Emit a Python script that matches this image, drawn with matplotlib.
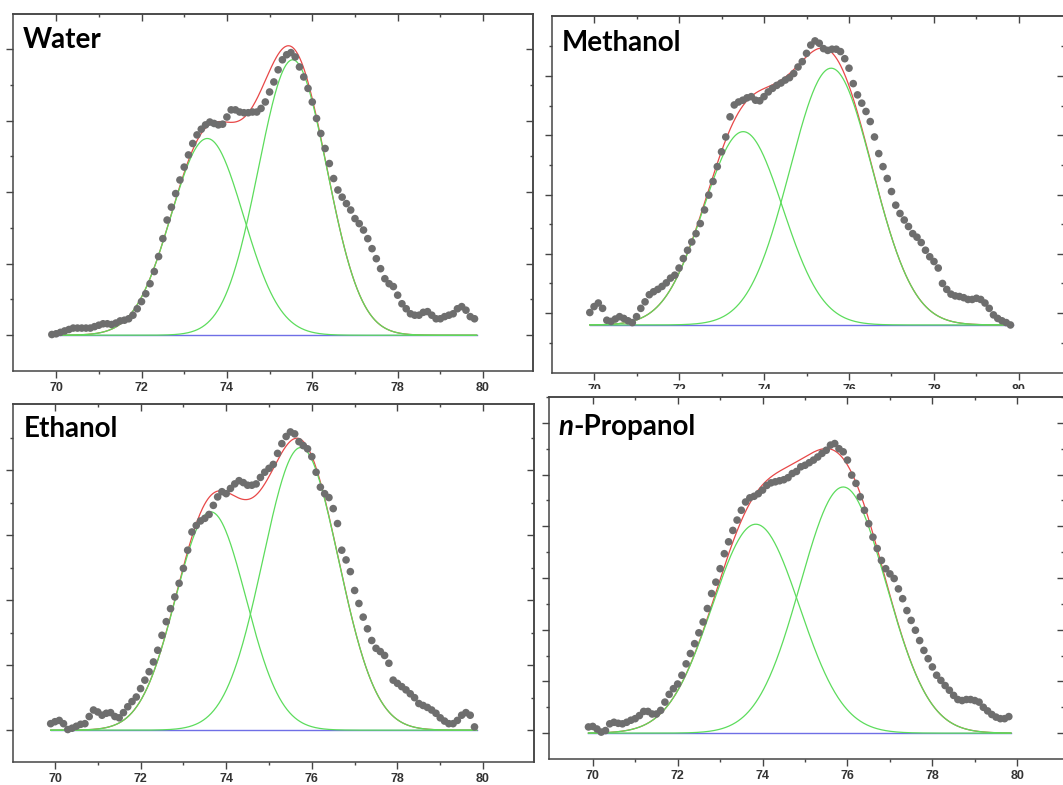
import numpy as np
import matplotlib.pyplot as plt
from matplotlib.patches import Rectangle

# binding energy grid (eV), 0.1 eV steps
energy = np.round(np.arange(69.9, 79.85, 0.1), 2)

water = [0.01, 0.02, 0.04, 0.06, 0.08, 0.10, 0.10, 0.10, 0.10, 0.10,
         0.12, 0.14, 0.16, 0.16, 0.15, 0.17, 0.20, 0.21, 0.23, 0.28,
         0.37, 0.47, 0.58, 0.72, 0.89, 1.10, 1.35, 1.61, 1.79, 1.98,
         2.17, 2.35, 2.52, 2.68, 2.80, 2.88, 2.94, 2.98, 2.96, 2.94,
         2.95, 3.05, 3.15, 3.15, 3.12, 3.11, 3.11, 3.12, 3.12, 3.17,
         3.26, 3.40, 3.54, 3.71, 3.85, 3.92, 3.95, 3.89, 3.75, 3.61,
         3.45, 3.26, 3.03, 2.82, 2.61, 2.40, 2.19, 2.03, 1.93, 1.84,
         1.75, 1.63, 1.56, 1.47, 1.35, 1.21, 1.07, 0.93, 0.79, 0.72,
         0.68, 0.56, 0.44, 0.37, 0.30, 0.28, 0.28, 0.32, 0.33, 0.28,
         0.23, 0.23, 0.26, 0.28, 0.30, 0.37, 0.40, 0.35, 0.26, 0.23]

methanol = [0.21, 0.31, 0.37, 0.28, 0.08, 0.06, 0.10, 0.14, 0.11, 0.07,
            0.04, 0.14, 0.28, 0.39, 0.51, 0.56, 0.60, 0.65, 0.71, 0.79,
            0.84, 0.96, 1.12, 1.26, 1.40, 1.54, 1.71, 1.94, 2.19, 2.42,
            2.67, 2.92, 3.17, 3.51, 3.71, 3.76, 3.79, 3.83, 3.85, 3.79,
            3.78, 3.85, 3.93, 3.99, 4.04, 4.08, 4.13, 4.17, 4.24, 4.35,
            4.44, 4.58, 4.72, 4.79, 4.75, 4.66, 4.63, 4.65, 4.65, 4.61,
            4.49, 4.33, 4.07, 3.88, 3.74, 3.60, 3.43, 3.17, 2.89, 2.67,
            2.47, 2.25, 2.02, 1.88, 1.77, 1.66, 1.54, 1.48, 1.39, 1.26,
            1.15, 1.07, 0.96, 0.70, 0.60, 0.52, 0.49, 0.48, 0.46, 0.43,
            0.43, 0.45, 0.43, 0.37, 0.28, 0.17, 0.11, 0.07, 0.04, 0.00]

ethanol = [0.10, 0.13, 0.15, 0.10, 0.01, 0.03, 0.06, 0.09, 0.10, 0.21,
           0.31, 0.28, 0.23, 0.26, 0.27, 0.21, 0.19, 0.27, 0.36, 0.44,
           0.51, 0.64, 0.77, 0.90, 1.05, 1.23, 1.46, 1.67, 1.87, 2.05,
           2.26, 2.49, 2.77, 3.05, 3.15, 3.22, 3.26, 3.32, 3.46, 3.59,
           3.67, 3.64, 3.72, 3.79, 3.84, 3.81, 3.77, 3.77, 3.79, 3.89,
           3.97, 4.03, 4.09, 4.26, 4.41, 4.52, 4.59, 4.56, 4.44, 4.38,
           4.33, 4.21, 3.97, 3.74, 3.64, 3.58, 3.41, 3.18, 2.77, 2.62,
           2.44, 2.15, 1.95, 1.74, 1.56, 1.38, 1.26, 1.21, 1.15, 1.03,
           0.77, 0.72, 0.67, 0.62, 0.56, 0.50, 0.41, 0.38, 0.35, 0.31,
           0.26, 0.19, 0.14, 0.10, 0.10, 0.15, 0.23, 0.27, 0.23, 0.05]

propanol = [0.12, 0.13, 0.08, 0.02, 0.05, 0.18, 0.21, 0.19, 0.18, 0.21,
            0.25, 0.28, 0.34, 0.42, 0.42, 0.37, 0.37, 0.44, 0.60, 0.75,
            0.86, 0.95, 1.12, 1.34, 1.54, 1.73, 1.94, 2.15, 2.41, 2.70,
            2.92, 3.18, 3.47, 3.70, 3.92, 4.12, 4.31, 4.47, 4.55, 4.58,
            4.63, 4.70, 4.79, 4.84, 4.86, 4.88, 4.90, 4.94, 5.02, 5.06,
            5.15, 5.18, 5.23, 5.28, 5.34, 5.41, 5.47, 5.57, 5.60, 5.50,
            5.44, 5.28, 4.99, 4.83, 4.57, 4.31, 4.05, 3.79, 3.57, 3.34,
            3.18, 3.08, 2.99, 2.79, 2.60, 2.37, 2.18, 1.99, 1.79, 1.60,
            1.44, 1.28, 1.12, 1.02, 0.92, 0.83, 0.73, 0.65, 0.63, 0.65,
            0.65, 0.63, 0.60, 0.50, 0.43, 0.36, 0.31, 0.28, 0.28, 0.32]

# fitted components: (centre eV, height, sigma)
water_peaks = [(73.54, 2.75, 0.85), (75.54, 3.85, 0.80)]
methanol_peaks = [(73.51, 3.26, 0.93), (75.58, 4.33, 0.97)]
ethanol_peaks = [(73.64, 3.36, 0.82), (75.74, 4.35, 0.88)]
propanol_peaks = [(73.84, 4.04, 1.03), (75.90, 4.76, 1.01)]

titles = ["Water", "Methanol", "Ethanol", "n-Propanol"]
xticks = [70, 72, 74, 76, 78, 80]

W, H = 1063, 785
fig = plt.figure(figsize=(W / 100, H / 100), dpi=100)

# (left, top, right, bottom) in pixels, xlim, ylim, y majors, y minors, title pos
panels = [
    (water, water_peaks, (13, 14, 533, 371), (68.99, 81.17), (-0.50, 4.49),
     [0, 1, 2, 3, 4], [0.5, 1.5, 2.5, 3.5], (0.019, 0.905)),
    (methanol, methanol_peaks, (552, 16, 1064, 373), (69.01, 81.06), (-0.81, 5.21),
     [0.2, 1.2, 2.2, 3.2, 4.2], [-0.3, 0.7, 1.7, 2.7, 3.7, 4.7], (0.0195, 0.902)),
    (ethanol, ethanol_peaks, (13, 404, 534, 762), (69.02, 81.19), (-0.49, 5.02),
     [0, 1, 2, 3, 4], [0.5, 1.5, 2.5, 3.5, 4.5], (0.021, 0.908)),
    (propanol, propanol_peaks, (549, 397, 1064, 759), (68.97, 81.10), (-0.50, 6.50),
     [0, 1, 2, 3, 4, 5, 6], [0.5, 1.5, 2.5, 3.5, 4.5, 5.5, 6.5], (0.019, 0.895)),
]

spine_c = '#454545'
fit_x = np.linspace(69.9, 79.85, 500)

for i, (ys, peaks, box, xl, yl, ymaj, ymin, tpos) in enumerate(panels):
    l, t, r, b = box
    ax = fig.add_axes([l / W, 1 - b / H, (r - l) / W, (b - t) / H])
    ax.set_zorder(2 if i == 3 else 0)

    ax.plot([69.9, 79.85], [0, 0], color='#6f6fe6', lw=1.0, zorder=1)
    comps = [h * np.exp(-(fit_x - c) ** 2 / (2 * s ** 2)) for c, h, s in peaks]
    ax.plot(fit_x, comps[0] + comps[1], color='#e84848', lw=0.9, zorder=2)
    for comp in comps:
        ax.plot(fit_x, comp, color='#5cdc5c', lw=0.9, zorder=2)
    ax.scatter(energy, ys, s=30, color='#6e6e6e', edgecolors='none', zorder=3)

    ax.set_xlim(*xl)
    ax.set_ylim(*yl)
    ax.set_xticks(xticks)
    ax.set_xticks([71, 73, 75, 77, 79], minor=True)
    ax.set_yticks(ymaj)
    ax.set_yticks(ymin, minor=True)
    ax.set_yticklabels([])
    ax.tick_params(which='both', direction='out', color=spine_c, width=1.0,
                   labelsize=9, labelcolor='#333333', pad=3)
    ax.tick_params(which='major', length=5)
    ax.tick_params(which='minor', length=2.5)
    for lab in ax.get_xticklabels():
        lab.set_fontfamily(['Liberation Sans', 'DejaVu Sans'])
        lab.set_fontweight('bold')
    for sp in ax.spines.values():
        sp.set_color(spine_c)
        sp.set_linewidth(1.1)

    top = ax.secondary_xaxis('top')
    top.set_xticks(xticks)
    top.set_xticks([71, 73, 75, 77, 79], minor=True)
    right = ax.secondary_yaxis('right')
    right.set_yticks(ymaj)
    right.set_yticks(ymin, minor=True)
    for sec in (top, right):
        sec.tick_params(which='both', direction='in', color=spine_c, width=1.0,
                        labeltop=False, labelright=False)
        sec.tick_params(which='major', length=5)
        sec.tick_params(which='minor', length=2.5)
        for sp in sec.spines.values():
            sp.set_color(spine_c)
            sp.set_linewidth(1.1)

    font = ['Lato', 'DejaVu Sans']
    if titles[i].startswith('n-'):
        tn = ax.text(tpos[0], tpos[1], 'n', transform=ax.transAxes, fontsize=20,
                     fontweight='bold', style='italic', family=font, va='baseline')
        ax.annotate(titles[i][1:], xy=(1, 0), xycoords=tn, fontsize=20,
                    fontweight='bold', family=font, va='bottom')
    else:
        ax.text(tpos[0], tpos[1], titles[i], transform=ax.transAxes, fontsize=20,
                fontweight='bold', family=font, va='baseline')

# the lower right panel overlaps the tick labels of the one above it
fig.add_artist(Rectangle((540 / W, 1 - 396.5 / H), (W - 540) / W, 7.5 / H,
                         transform=fig.transFigure, facecolor='white',
                         edgecolor='none', zorder=1))

fig.savefig('out.png', dpi=100)
